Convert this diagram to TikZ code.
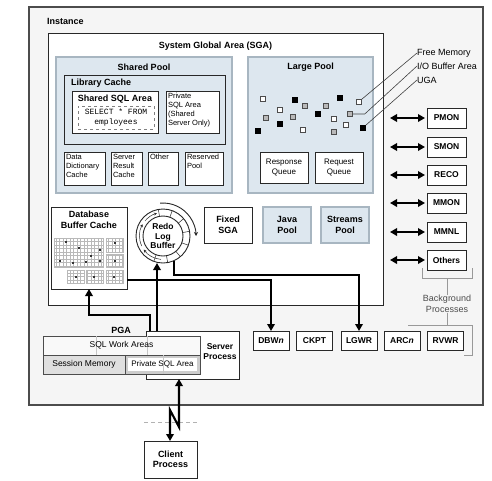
\documentclass[tikz,border=0pt]{standalone}
\usepackage{fontspec}
\setmainfont{Liberation Sans}
\newfontfamily\codefont{Liberation Mono}
\usetikzlibrary{arrows.meta}

\definecolor{poolblue}{RGB}{221,231,239}
\definecolor{pooledge}{RGB}{168,182,193}
\definecolor{instfill}{RGB}{245,245,245}
\definecolor{inkline}{RGB}{40,40,40}

\begin{document}
\begin{tikzpicture}[
		x=1pt, y=-1pt,
		every node/.style={inner sep=0pt, outer sep=0pt, font=\fontsize{9}{10.5}\selectfont},
		box/.style={rectangle, draw=inkline, line width=1pt, fill=white},
		pool/.style={rectangle, draw=pooledge, line width=1.2pt, fill=poolblue},
		hdr/.style={font=\bfseries\fontsize{9}{10.5}\selectfont, align=center},
		small/.style={font=\fontsize{7.5}{9}\selectfont, align=left, anchor=north west},
		proc/.style={box, font=\bfseries\fontsize{8.5}{10}\selectfont, minimum height=20},
		pgacell/.style={rectangle, draw=gray!60!black, line width=0.8pt, minimum height=19},
		freesq/.style={rectangle, draw=gray!60!black, fill=white, line width=0.6pt, minimum size=5.5},
		iosq/.style={rectangle, draw=gray!60!black, fill=gray!55, line width=0.6pt, minimum size=5.5},
		ugasq/.style={rectangle, draw=black, fill=black, line width=0.6pt, minimum size=5.5},
		legline/.style={draw=gray!50!black, line width=0.6pt},
		cellgrid/.style={draw=gray!55, line width=0.4pt, step=3.5pt},
		bgline/.style={draw=gray!80, line width=0.8pt},
		flow/.style={line width=2.1pt, -{Triangle[length=7pt, width=7.5pt]}},
		dblflow/.style={line width=2.1pt, {Triangle[length=7pt, width=7.5pt]}-{Triangle[length=7pt, width=7.5pt]}}
	]
  \useasboundingbox (0,0) rectangle (492,480);
  \fill[white] (0,0) rectangle (492,480);

  % instance and SGA frames
  \node (inst) [rectangle, draw=black!70, line width=1.2pt, fill=instfill, minimum width=454, minimum height=398] at (256,206) {};
  \node (instlbl) [hdr, anchor=west] at (47,21) {Instance};
  \node (sga) [box, minimum width=335, minimum height=272] at (215.5,169) {};
  \node (sgalbl) [hdr] at (215.5,46) {System Global Area (SGA)};

  % shared pool
  \node (spool) [pool, minimum width=176, minimum height=136] at (144,125) {};
  \node (spoollbl) [hdr] at (144,67) {Shared Pool};
  \node (libc) [rectangle, draw=inkline, line width=1pt, fill=poolblue, minimum width=161, minimum height=69] at (144.5,109.5) {};
  \node (libclbl) [hdr, anchor=west] at (71,83) {Library Cache};
  \node (ssql) [box, minimum width=86, minimum height=42] at (115,112) {};
  \node (ssqllbl) [hdr] at (115,99) {Shared SQL Area};
  \node (stmt) [rectangle, draw=gray, dashed, line width=0.6pt, minimum width=76, minimum height=23,
    font=\codefont\fontsize{8}{9.5}\selectfont, align=center] at (116,117.5) {SELECT * FROM\\employees};
  \node (psql) [box, minimum width=53, minimum height=42] at (192.5,112) {};
  \node (psqltxt) [small] at (168,93) {Private\\SQL Area\\(Shared\\Server Only)};
  \node (ddc) [box, minimum width=41, minimum height=33] at (84.5,168.5) {};
  \node (ddctxt) [small] at (66,154) {Data\\Dictionary\\Cache};
  \node (src) [box, minimum width=31, minimum height=33] at (126.5,168.5) {};
  \node (srctxt) [small] at (113,154) {Server\\Result\\Cache};
  \node (oth) [box, minimum width=30, minimum height=33] at (163,168.5) {};
  \node (othtxt) [small] at (150,154) {Other};
  \node (rpool) [box, minimum width=38, minimum height=33] at (204,168.5) {};
  \node (rpooltxt) [small] at (187,154) {Reserved\\Pool};

  % large pool
  \node (lpool) [pool, minimum width=125, minimum height=136] at (310.5,125) {};
  \node (lpoollbl) [hdr] at (310.5,67) {Large Pool};
  \node (respq) [box, minimum width=48, minimum height=31, align=center, font=\fontsize{8}{9.5}\selectfont] at (284,167.5) {Response\\Queue};
  \node (reqq) [box, minimum width=48, minimum height=31, align=center, font=\fontsize{8}{9.5}\selectfont] at (339,167.5) {Request\\Queue};
  \foreach \sx/\sy/\sk [count=\i] in {263/99/freesq, 295/100/ugasq, 305/106/iosq, 280/110/freesq,
      266/118/iosq, 293/117/iosq, 318/114/ugasq, 326/106/iosq, 340/98/ugasq, 359/102/freesq,
      350/114/iosq, 334/119/freesq, 280/124/ugasq, 303/130/freesq, 258/131/ugasq, 334/132/iosq,
      346/125/freesq, 363/128/ugasq}
    \node (sq\i) [\sk] at (\sx,\sy) {};
  \node (lgfree) [anchor=west] at (417,53) {Free Memory};
  \node (lgio) [anchor=west] at (417,66) {I/O Buffer Area};
  \node (lguga) [anchor=west] at (417,80) {UGA};
  \draw[legline] (sq10.north east) -- (lgfree.west);
  \draw[legline] (sq11.east) -- ++(12,0) -- (lgio.west);
  \draw[legline] (sq18.north east) -- (lguga.west);

  % lower SGA parts
  \node (fsga) [box, hdr, minimum width=48, minimum height=36] at (228,225) {Fixed\\SGA};
  \node (jpool) [pool, hdr, minimum width=48, minimum height=36] at (287,225) {Java\\Pool};
  \node (stpool) [pool, hdr, minimum width=48, minimum height=36] at (345,225) {Streams\\Pool};

  \node (dbbc) [box, minimum width=76, minimum height=82] at (89,248) {};
  \node (dbbclbl) [hdr] at (89,220) {Database\\Buffer Cache};
  \foreach \xa/\ya/\xb/\yb in {54/238/103/267, 106/238/123/252, 106/254/123/267,
      67/270/84/283, 86/270/103/283, 106/270/123/283}
    \draw[cellgrid] (\xa,\ya) grid (\xb,\yb) (\xa,\ya) rectangle (\xb,\yb);
  \foreach \mx/\my in {66/242, 79/248, 100/250, 115/243, 60/261, 73/263, 86/262, 91/256,
      100/261, 115/261, 76/277, 94/277, 114/277}
    \fill[gray!40!black] (\mx-1,\my-1) rectangle (\mx+1,\my+1);

  \node (redo) [circle, draw=inkline, line width=0.9pt, fill=white, minimum size=54] at (163,236) {};
  \node (redoin) [circle, draw=inkline, line width=0.9pt, minimum size=40, align=center,
    font=\bfseries\fontsize{8.5}{9.5}\selectfont] at (163,236) {Redo\\Log\\Buffer};
  \foreach \a in {-110,-80,-50,-20,10,40,70,100}
    \draw[inkline, line width=0.5pt] (redoin.\a) -- (redo.\a);
  \foreach \a/\b in {265/215, 205/150, 140/105}
    \draw[inkline, line width=0.5pt, -{Stealth[length=3pt, width=3pt]}]
      ([shift={(\a:23.5pt)}]redo.center) arc[start angle=\a, end angle=\b, radius=23.5pt];
  \draw[inkline, line width=0.9pt, -{Stealth[length=4pt, width=4pt]}]
    ([shift={(95:33pt)}]redo.center) arc[start angle=95, end angle=0, radius=33pt];

  % background processes
  \foreach \p/\py in {PMON/118, SMON/147, RECO/175, MMON/203, MMNL/232, Others/260} {
    \node (\p) [proc, minimum width=39] at (446.5,\py) {\p};
    \coordinate (\p end) at (390,\py);
    \draw[dblflow] (\p end) -- ([xshift=-2]\p.west);
  }
  \foreach \nm/\lbl/\qx in {dbwn/DBW\textit{n}/271, ckpt/CKPT/314.5, lgwr/LGWR/359,
      arcn/ARC\textit{n}/402, rvwr/RVWR/445.5}
    \node (\nm) [proc, minimum width=36, minimum height=19] at (\qx,340.5) {\lbl};
  \node (bgproc) [align=center, text=gray!60!black] at (447,304) {Background\\Processes};
  \draw[bgline] (422,268) -- (422,278) -- (472,278) -- (472,268);
  \draw[bgline] (447,278) -- (bgproc.north);
  \draw[bgline] (bgproc.south) -- (447,325);
  \draw[bgline] (408,325) -- (472,325) -- (472,355) -- (464,355);

  % server process and PGA
  \node (srv) [box, minimum width=93, minimum height=48] at (192.5,355) {};
  \node (srvlbl) [hdr, font=\bfseries\fontsize{8.5}{10}\selectfont] at (220,352) {Server\\Process};
  \node (pgalbl) [hdr] at (121,330) {PGA};
  \node (sqlwa) [pgacell, fill=gray!5, minimum width=157] at (121.5,345.5) {};
  \draw[gray!45, line width=0.5pt] (96,336) -- (96,355) (147,336) -- (147,355);
  \node (sqlwalbl) [font=\fontsize{8.5}{10}\selectfont] at (121.5,345.5) {SQL Work Areas};
  \node (sessmem) [pgacell, fill=gray!25, minimum width=82, font=\fontsize{8.5}{10}\selectfont] at (84,364.5) {Session Memory};
  \node (pgapsql) [pgacell, fill=gray!40, minimum width=75] at (162.5,364.5) {};
  \node (pgapsqlin) [rectangle, fill=white, minimum width=69, minimum height=13] at (162.5,364) {};
  \draw[gray!45, line width=0.5pt] (163,355) -- (163,374);
  \node (pgapsqllbl) [font=\fontsize{8}{10}\selectfont] at (162.5,364.5) {Private SQL Area};

  % data flow
  \coordinate (srvtap) at ([xshift=11]srv.north west);
  \draw[flow] (redo.-66) -- ++(0,14) -| (lgwr.north);
  \draw[flow] ([yshift=-32]dbbc.east) -| (dbwn.north);
  \draw[flow] ([xshift=4]srv.north west) -- ++(0,-16) -| (dbbc.south);
  \draw[flow] (srvtap) -- (srvtap |- redo.south);

  % client
  \node (client) [box, hdr, minimum width=53, minimum height=37] at (170.5,459.5) {Client\\Process};
  \draw[gray!60, line width=0.9pt, dash pattern=on 4pt off 3pt] (144,422) -- (197,422);
  \coordinate (zz1) at (179,427);
  \coordinate (zz2) at (170,410);
  \draw[dblflow] (srv.south -| zz1) -- (zz1) -- (zz2) -- (zz2 |- client.north);
\end{tikzpicture}
\end{document}
